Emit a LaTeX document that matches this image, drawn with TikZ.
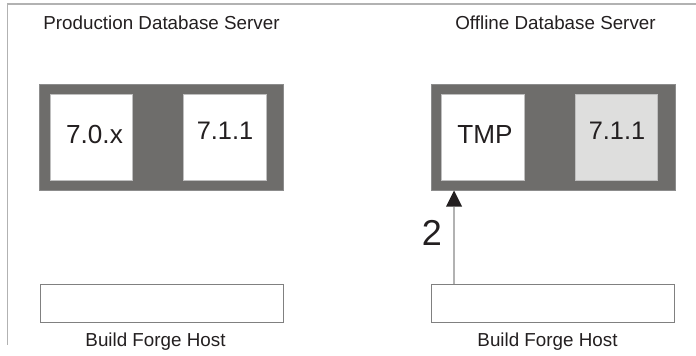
\documentclass[tikz,border=0pt]{standalone}
\usepackage{fontspec}
\setmainfont{Liberation Sans}
\tikzset{
  px/.style={x=0.75pt,y=-0.75pt},
  server/.style={draw=black!45,line width=0.5pt,fill=srvgray,inner sep=0pt,minimum width=183pt,minimum height=79.5pt,anchor=north west},
  slot/.style={draw=black!25,line width=0.5pt,fill=white,inner sep=0pt,minimum width=61.9pt,minimum height=64.9pt,anchor=north west,text=txt},
  host/.style={draw=black!50,line width=0.6pt,fill=white,inner sep=0pt,minimum width=182.5pt,minimum height=28.5pt,anchor=north west},
  caption/.style={font=\fontsize{14.1pt}{16pt}\selectfont,text=txt,inner sep=0pt,anchor=base},
  big/.style={font=\fontsize{19.6pt}{22pt}\selectfont,text=txt,inner sep=0pt,anchor=base},
  ver/.style={font=\fontsize{19pt}{22pt}\selectfont,text=txt,inner sep=0pt,anchor=base},
  frameline/.style={draw=black!30,line width=0.8pt},
  link/.style={draw=black!30,line width=0.8pt},
  tip/.style={fill=txt,draw=none},
}
\definecolor{srvgray}{HTML}{6E6D6B}
\definecolor{txt}{HTML}{231F20}
\definecolor{ltgray}{HTML}{DEDEDD}
\begin{document}
\begin{tikzpicture}[px]
\useasboundingbox (0,0) rectangle (696,355);
\fill[white] (0,0) rectangle (696,355);
\coordinate (fa) at (696,4);
\coordinate (fb) at (7.5,4);
\coordinate (fc) at (7.5,345);
\draw[frameline] (fa) -- (fb) -- (fc);
\node[caption] (t1) at (161.5,29) {Production Database Server};
\node[caption] (t2) at (555.5,29) {Offline Database Server};
\node[server] (s1) at (39,84) {};
\node[server] (s2) at (431,84) {};
\node[slot] (a1) at (49.7,93.7) {};
\node[slot] (a2) at (183,93.7) {};
\node[slot] (b1) at (441.2,93.7) {};
\node[slot,fill=ltgray] (b2) at (574.7,93.7) {};
\node[big] (la1) at (94.5,143) {7.0.x};
\node[ver] (la2) at (225,139.5) {7.1.1};
\node[big] (lb1) at (485,143) {TMP};
\node[ver] (lb2) at (617,139.5) {7.1.1};
\node[host] (h1) at (39.5,284) {};
\node[host] (h2) at (431,284) {};
\node[caption] (c1) at (155.5,346) {Build Forge Host};
\node[caption] (c2) at (547.5,346) {Build Forge Host};
\coordinate (ab) at (454,284);
\coordinate (am) at (454,207);
\draw[link] (ab) -- (am);
\coordinate (tt) at (454,190.5);
\coordinate (tl) at (446,206.5);
\coordinate (tr) at (462,206.5);
\fill[tip] (tt) -- (tr) -- (tl) -- cycle;
\node[font=\fontsize{27pt}{30pt}\selectfont,text=txt,inner sep=0pt,anchor=base] (n2) at (432,245) {2};
\end{tikzpicture}
\end{document}
